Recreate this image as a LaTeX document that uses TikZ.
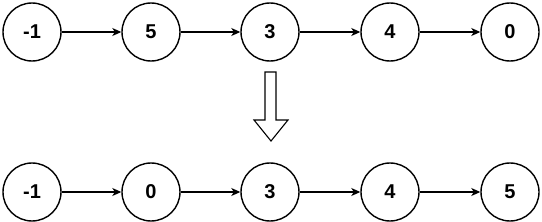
\documentclass[tikz,border=0pt]{standalone}
\usepackage{fontspec}
\setmainfont{Liberation Sans}
\usetikzlibrary{arrows.meta}

\begin{document}
\begin{tikzpicture}[x=1pt, y=-1pt, line width=1.4pt,
    item/.style={draw, circle, minimum size=58pt, inner sep=0pt,
      font=\fontsize{20}{22}\selectfont\bfseries},
    link/.style={line width=1.1pt, -{Stealth[length=9pt, width=8pt, inset=2.5pt]}}]
  \useasboundingbox (0, 0) rectangle (542, 222);

  % list before
  \node[item] (a1) at (32, 32)  {-1};
  \node[item] (a2) at (151, 32) {5};
  \node[item] (a3) at (270, 32) {3};
  \node[item] (a4) at (390, 32) {4};
  \node[item] (a5) at (510, 32) {0};

  % list after
  \node[item] (b1) at (32, 192)  {-1};
  \node[item] (b2) at (151, 192) {0};
  \node[item] (b3) at (270, 192) {3};
  \node[item] (b4) at (390, 192) {4};
  \node[item] (b5) at (510, 192) {5};

  \draw[link] (a1) -- (a2);
  \draw[link] (a2) -- (a3);
  \draw[link] (a3) -- (a4);
  \draw[link] (a4) -- (a5);

  \draw[link] (b1) -- (b2);
  \draw[link] (b2) -- (b3);
  \draw[link] (b3) -- (b4);
  \draw[link] (b4) -- (b5);

  % hollow arrow
  \draw[line width=1.1pt, fill=white] (265, 72) -- (276, 72) -- (276, 120) -- (288, 120)
    -- (271, 141) -- (254, 120) -- (265, 120) -- cycle;
\end{tikzpicture}
\end{document}
